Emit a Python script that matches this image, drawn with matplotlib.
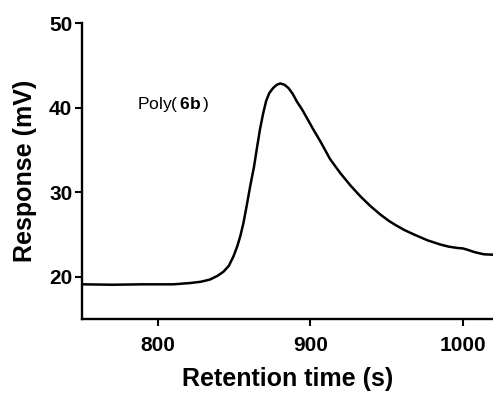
import matplotlib.pyplot as plt

# retention time (s) vs detector response (mV)
tempo = [750, 770, 790, 810, 821, 828, 834, 839, 843, 846.5, 849.5, 852, 854, 856,
         858, 860.5, 863, 865, 867, 869, 871, 873, 875.5, 878, 880.3, 883, 885.7,
         888.5, 891.2, 894.5, 897.8, 902, 906.6, 913, 919.7, 926.3, 932.9, 939.5, 946,
         952, 957, 962, 968, 977, 985.5, 991, 996.5, 1000, 1003, 1008, 1014, 1020]
resposta = [19.1, 19.05, 19.1, 19.1, 19.25, 19.4, 19.66, 20.1, 20.6, 21.3, 22.4,
            23.6, 24.8, 26.3, 28.2, 30.7, 33.0, 35.3, 37.5, 39.3, 40.8, 41.7, 42.3,
            42.7, 42.85, 42.7, 42.3, 41.6, 40.7, 39.8, 38.75, 37.4, 36.0, 33.9, 32.25,
            30.8, 29.5, 28.35, 27.35, 26.55, 26.0, 25.5, 25.0, 24.3, 23.8, 23.55, 23.4,
            23.35, 23.2, 22.9, 22.65, 22.6]

xticks = [800, 900, 1000]
yticks = [20, 30, 40, 50]

plt.rcParams['font.family'] = 'Liberation Sans'
plt.rcParams['mathtext.fontset'] = 'custom'
plt.rcParams['mathtext.rm'] = 'Liberation Sans'
plt.rcParams['mathtext.bf'] = 'Liberation Sans:bold'

fig = plt.figure(figsize=(4.93, 3.94), dpi=100)
ax = fig.add_axes([0.1663, 0.1904, 0.8337, 0.7512])

ax.plot(tempo, resposta, color='black', linewidth=1.8, solid_joinstyle='round')

ax.set_xlim(750, 1020)
ax.set_ylim(15, 50)
ax.set_xticks(xticks)
ax.set_yticks(yticks)

ax.spines['top'].set_visible(False)
ax.spines['right'].set_visible(False)
ax.spines['left'].set_linewidth(1.7)
ax.spines['bottom'].set_linewidth(1.7)
ax.tick_params(width=1.5, length=5, labelsize=15)
ax.tick_params(axis='x', pad=7)
ax.tick_params(axis='y', pad=2)
for lbl in ax.get_xticklabels() + ax.get_yticklabels():
    lbl.set_fontweight('bold')

ax.set_xlabel('Retention time (s)', fontsize=18, fontweight='bold', labelpad=9)
ax.set_ylabel('Response (mV)', fontsize=18, fontweight='bold', labelpad=9)

ax.text(786, 39.8, r'Poly($\,\mathbf{6b}\,$)', fontsize=12.5, va='baseline', ha='left')

plt.savefig('out.png', dpi=100)
